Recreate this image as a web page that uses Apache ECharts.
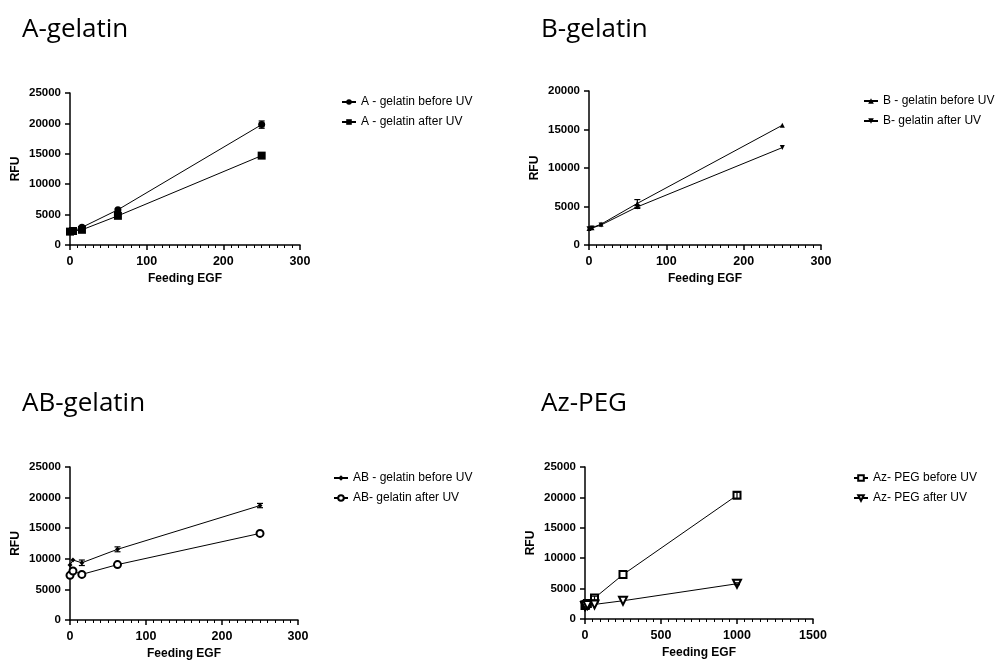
<!DOCTYPE html>
<html>
<head>
<meta charset="utf-8">
<script src="https://cdn.jsdelivr.net/npm/echarts@6/dist/echarts.min.js"></script>
<style>
  html, body { margin: 0; padding: 0; background: #fff; }
  #chart { width: 997px; height: 663px; }
</style>
</head>
<body>
<div id="chart"></div>
<script>
// feeding EGF concentrations
const doses = [0, 3.9, 15.6, 62.5, 250];
const dosesPeg = [0, 3.9, 15.6, 62.5, 250, 1000];

// RFU readings
const aBefore = [2250, 2300, 2900, 5800, 19800];
const aAfter = [2200, 2300, 2500, 4800, 14700];
const aBeforeErr = [0, 0, 150, 200, 600];
const aAfterErr = [0, 0, 100, 150, 400];

const bBefore = [2150, 2250, 2700, 5400, 15550];
const bAfter = [2100, 2200, 2600, 4950, 12650];
const bBeforeErr = [0, 0, 0, 500, 0];
const bAfterErr = [0, 0, 0, 200, 0];

const abBefore = [9000, 9800, 9350, 11550, 18700];
const abAfter = [7300, 8000, 7450, 9050, 14150];
const abBeforeErr = [0, 0, 450, 400, 350];
const abAfterErr = [0, 0, 0, 0, 0];

const pegBefore = [2200, 2300, 2550, 3450, 7300, 20350];
const pegAfter = [2150, 2200, 2300, 2400, 3000, 5800];
const pegBeforeErr = [0, 0, 0, 300, 0, 500];
const pegAfterErr = [0, 0, 0, 0, 0, 150];

const panels = [
  { title: "A-gelatin", names: ["A - gelatin before UV", "A - gelatin after UV"] },
  { title: "B-gelatin", names: ["B - gelatin before UV", "B- gelatin after UV"] },
  { title: "AB-gelatin", names: ["AB - gelatin before UV", "AB- gelatin after UV"] },
  { title: "Az-PEG", names: ["Az- PEG before UV", "Az- PEG after UV"] },
];

const chart = echarts.init(document.getElementById("chart"));
const font = "Liberation Sans, Arial, sans-serif";

const grids = [
  { left: 70, top: 93, width: 230, height: 152 },
  { left: 589, top: 91, width: 232, height: 154 },
  { left: 70, top: 467, width: 228, height: 153 },
  { left: 585, top: 467, width: 228, height: 152 },
];

const axisLine = { lineStyle: { color: "#000", width: 1.5 } };
const nameStyle = { color: "#000", fontWeight: "bold", fontSize: 12, fontFamily: font };

const xMax = [300, 300, 300, 1500];
const xInt = [100, 100, 100, 500];
const yMax = [25000, 20000, 25000, 25000];

const xAxes = grids.map((g, i) => ({
  type: "value", gridIndex: i, min: 0, max: xMax[i], interval: xInt[i],
  name: "Feeding EGF", nameLocation: "middle", nameGap: 28, nameTextStyle: nameStyle,
  axisLine: { ...axisLine, onZero: false },
  axisTick: { length: 5, lineStyle: { color: "#000", width: 1.5 } },
  minorTick: { show: true, splitNumber: 10, length: 3, lineStyle: { color: "#000", width: 1 } },
  axisLabel: { color: "#000", fontWeight: "bold", fontSize: 12.5, fontFamily: font, margin: 10, formatter: (v) => String(v) },
  splitLine: { show: false },
}));

const yAxes = grids.map((g, i) => ({
  type: "value", gridIndex: i, min: 0, max: yMax[i], interval: 5000,
  name: "RFU", nameLocation: "middle", nameGap: 48, nameTextStyle: nameStyle,
  axisLine: { ...axisLine, show: true, onZero: false },
  axisTick: { show: true, length: 5, lineStyle: { color: "#000", width: 1.5 } },
  axisLabel: { color: "#000", fontWeight: "bold", fontSize: 11.5, fontFamily: font, margin: 9, formatter: (v) => String(v) },
  splitLine: { show: false },
}));

const markers = [
  [{ symbol: "circle", size: 7, bw: 0 }, { symbol: "rect", size: 8, bw: 0 }],
  [{ symbol: "triangle", size: 5, bw: 0 }, { symbol: "triangle", size: 5, rotate: 180, bw: 0 }],
  [{ symbol: "diamond", size: 5, bw: 0 }, { symbol: "emptyCircle", size: 7, bw: 1.5 }],
  [{ symbol: "emptyRect", size: 7, bw: 1.5 }, { symbol: "emptyTriangle", size: 8, rotate: 180, bw: 1.5 }],
];

const values = [
  [aBefore, aAfter], [bBefore, bAfter], [abBefore, abAfter], [pegBefore, pegAfter],
];
const errors = [
  [aBeforeErr, aAfterErr], [bBeforeErr, bAfterErr], [abBeforeErr, abAfterErr], [pegBeforeErr, pegAfterErr],
];
const xs = [doses, doses, doses, dosesPeg];

const series = [];
panels.forEach((p, i) => {
  [0, 1].forEach((k) => {
    const m = markers[i][k];
    series.push({
      name: p.names[k],
      type: "line",
      xAxisIndex: i, yAxisIndex: i,
      data: xs[i].map((x, j) => [x, values[i][k][j]]),
      symbol: m.symbol, symbolSize: m.size, symbolRotate: m.rotate || 0,
      showAllSymbol: true,
      lineStyle: { color: "#000", width: 1 },
      itemStyle: { color: "#000", borderColor: "#000", borderWidth: m.bw },
      emphasis: { disabled: true },
      z: 3,
    });
    series.push({
      type: "custom",
      xAxisIndex: i, yAxisIndex: i,
      data: xs[i].map((x, j) => [x, values[i][k][j] - errors[i][k][j], values[i][k][j] + errors[i][k][j]])
        .filter((d) => d[2] > d[1]),
      renderItem: (params, api) => {
        const lo = api.coord([api.value(0), api.value(1)]);
        const hi = api.coord([api.value(0), api.value(2)]);
        const style = { stroke: "#000", lineWidth: 1.2 };
        return {
          type: "group",
          children: [
            { type: "line", shape: { x1: lo[0], y1: lo[1], x2: hi[0], y2: hi[1] }, style },
            { type: "line", shape: { x1: lo[0] - 3, y1: lo[1], x2: lo[0] + 3, y2: lo[1] }, style },
            { type: "line", shape: { x1: hi[0] - 3, y1: hi[1], x2: hi[0] + 3, y2: hi[1] }, style },
          ],
        };
      },
      encode: { x: 0, y: [1, 2] },
      silent: true,
      z: 4,
    });
  });
});

const titlePos = [
  { left: 22, top: 17 }, { left: 541, top: 17 }, { left: 22, top: 391 }, { left: 541, top: 391 },
];
const legendPos = [
  { left: 341, top: 96 }, { left: 863, top: 95 }, { left: 333, top: 472 }, { left: 853, top: 472 },
];

chart.setOption({
  animation: false,
  backgroundColor: "#fff",
  title: panels.map((p, i) => ({
    text: p.title, ...titlePos[i], padding: 0,
    textStyle: { color: "#000", fontSize: 26, fontWeight: "normal", fontFamily: "Open Sans, Noto Sans, sans-serif" },
  })),
  legend: panels.map((p, i) => ({
    data: p.names, orient: "vertical", ...legendPos[i], padding: 0,
    itemWidth: 14, itemHeight: 7, itemGap: 8,
    textStyle: { color: "#000", fontSize: 12, fontFamily: font },
    selectedMode: false,
  })),
  grid: grids,
  xAxis: xAxes,
  yAxis: yAxes,
  series,
});
</script>
</body>
</html>
